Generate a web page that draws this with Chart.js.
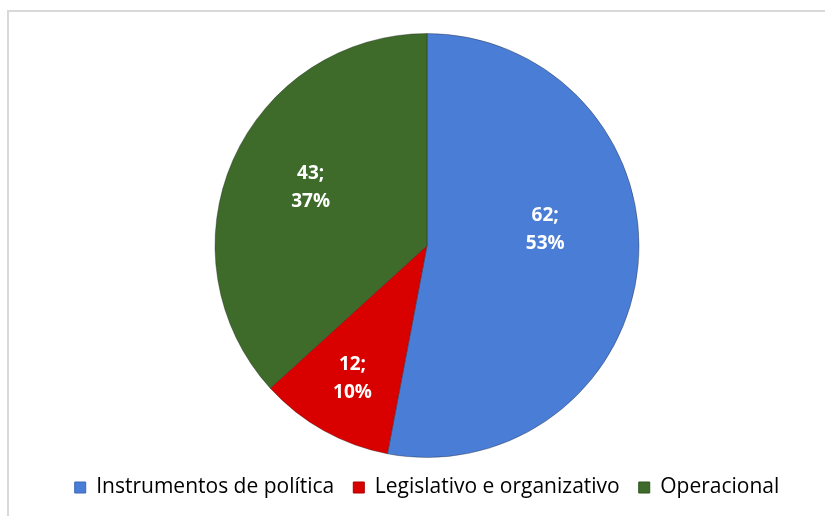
<!DOCTYPE html>
<html>
<head>
<meta charset="utf-8">
<script src="https://cdn.jsdelivr.net/npm/chart.js@4.4.1/dist/chart.umd.min.js"></script>
<style>
  html, body { margin: 0; padding: 0; background: #fff; overflow: hidden; }
  #frame { position: absolute; left: 7px; top: 10px; width: 900px; height: 600px; border: 2px solid #d9d9d9; }
  #wrap { position: absolute; left: 0; top: 0; width: 825px; height: 516px; }
</style>
</head>
<body>
<div id="frame"></div>
<div id="wrap"><canvas id="pie"></canvas></div>
<script>
const categories = ['Instrumentos de política', 'Legislativo e organizativo', 'Operacional'];
const values = [62, 12, 43];
const percents = ['53%', '10%', '37%'];
const colors = ['#4a7dd6', '#d90000', '#3e6b2a'];
const edgeColors = ['#3c68b8', '#a80000', '#2f5520'];

// white "value; percent" labels inside each slice
const sliceLabels = {
    id: 'sliceLabels',
    afterDatasetsDraw(chart) {
        const ctx = chart.ctx;
        const meta = chart.getDatasetMeta(0);
        const depth = [0.56, 0.72, 0.6];
        const lift = [-27, 0, -6];
        ctx.save();
        ctx.fillStyle = '#ffffff';
        ctx.font = 'bold 19px "Open Sans", sans-serif';
        ctx.textAlign = 'center';
        ctx.textBaseline = 'middle';
        meta.data.forEach((arc, i) => {
            const p = arc.getProps(['x', 'y', 'startAngle', 'endAngle', 'outerRadius'], true);
            const mid = (p.startAngle + p.endAngle) / 2;
            const r = p.outerRadius * depth[i];
            const x = p.x + Math.cos(mid) * r;
            const y = p.y + Math.sin(mid) * r + lift[i];
            ctx.fillText(values[i] + ';', x, y - 14);
            ctx.fillText(percents[i], x, y + 14);
        });
        ctx.restore();
    }
};

function sliceFill(context) {
    const chart = context.chart;
    const i = context.dataIndex;
    const arc = chart.getDatasetMeta(0).data[i];
    if (!arc || !arc.outerRadius) return colors[i];
    const g = chart.ctx.createRadialGradient(arc.x, arc.y, 0, arc.x, arc.y, arc.outerRadius);
    g.addColorStop(0, colors[i]);
    g.addColorStop(0.93, colors[i]);
    g.addColorStop(1, edgeColors[i]);
    return g;
}

new Chart(document.getElementById('pie'), {
    type: 'pie',
    data: {
        labels: categories,
        datasets: [{
            data: values,
            backgroundColor: sliceFill,
            borderColor: 'rgba(30,30,30,0.35)',
            borderWidth: 1
        }]
    },
    options: {
        responsive: true,
        maintainAspectRatio: false,
        animation: false,
        layout: { padding: { top: 33, left: 29, right: 0, bottom: 8 } },
        plugins: {
            tooltip: { enabled: false },
            legend: {
                position: 'bottom',
                labels: {
                    boxWidth: 11,
                    boxHeight: 11,
                    padding: 19,
                    color: '#595959',
                    font: { family: '"Open Sans", sans-serif', size: 21 },
                    generateLabels(chart) {
                        return categories.map((c, i) => ({
                            text: c,
                            fillStyle: colors[i],
                            strokeStyle: edgeColors[i],
                            lineWidth: 1,
                            index: i
                        }));
                    }
                }
            }
        }
    },
    plugins: [sliceLabels]
});
</script>
</body>
</html>
